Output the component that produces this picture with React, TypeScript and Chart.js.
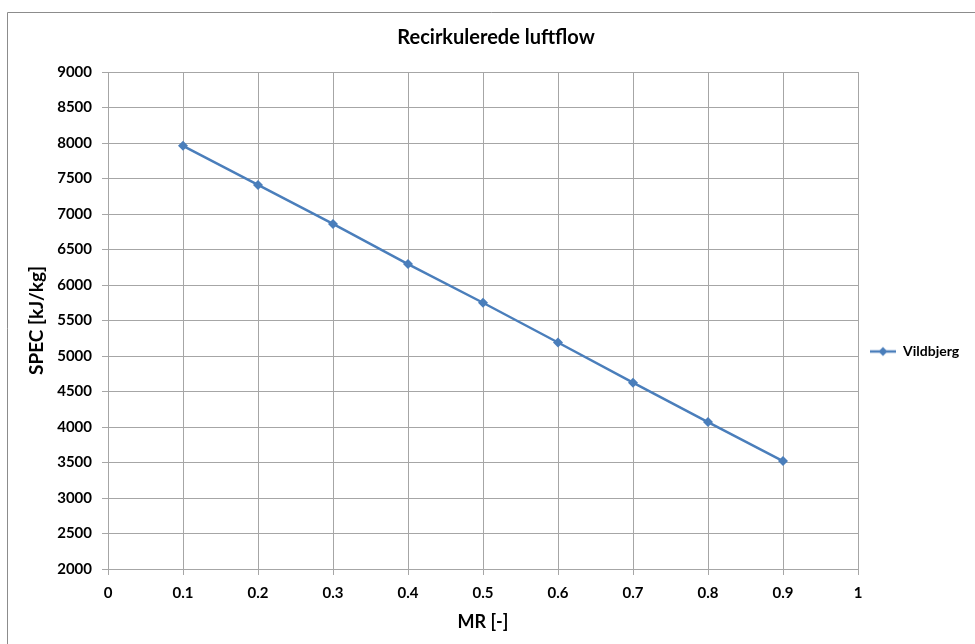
import React, { useEffect, useRef } from "react";
import { Chart, registerables } from "chart.js";

Chart.register(...registerables);

const chartTitle = "Recirkulerede luftflow";
const seriesName = "Vildbjerg";
const xAxisTitle = "MR [-]";
const yAxisTitle = "SPEC [kJ/kg]";

const mrValues = [0.1, 0.2, 0.3, 0.4, 0.5, 0.6, 0.7, 0.8, 0.9];
const specValues = [7960, 7410, 6860, 6295, 5750, 5190, 4625, 4070, 3520];

const xTickLabels = ["0", "0.1", "0.2", "0.3", "0.4", "0.5", "0.6", "0.7", "0.8", "0.9", "1"];
const yTickLabels = ["2000", "2500", "3000", "3500", "4000", "4500", "5000", "5500", "6000", "6500", "7000", "7500", "8000", "8500", "9000"];

const FONT = "Lato, 'Open Sans', sans-serif";
const LINE_COLOR = "#4a7ebb";
const GRID_COLOR = "#a6a6a6";

export default function App() {
  const canvasRef = useRef<HTMLCanvasElement | null>(null);

  useEffect(() => {
    const canvas = canvasRef.current;
    if (!canvas) return;

    // legend marker: line with diamond
    const marker = document.createElement("canvas");
    marker.width = 26;
    marker.height = 12;
    const mctx = marker.getContext("2d")!;
    mctx.strokeStyle = LINE_COLOR;
    mctx.lineWidth = 2.5;
    mctx.beginPath();
    mctx.moveTo(0, 6);
    mctx.lineTo(26, 6);
    mctx.stroke();
    mctx.fillStyle = LINE_COLOR;
    mctx.beginPath();
    mctx.moveTo(13, 1.5);
    mctx.lineTo(17.5, 6);
    mctx.lineTo(13, 10.5);
    mctx.lineTo(8.5, 6);
    mctx.closePath();
    mctx.fill();

    const frame = {
      id: "frame",
      beforeDraw(chart: any) {
        const c = chart.ctx;
        c.save();
        c.fillStyle = "#ffffff";
        c.fillRect(0, 0, chart.width, chart.height);
        c.strokeStyle = "#8c8c8c";
        c.lineWidth = 1;
        c.beginPath();
        c.moveTo(7.5, chart.height);
        c.lineTo(7.5, 12.5);
        c.lineTo(chart.width, 12.5);
        c.stroke();
        c.restore();
      },
      afterLayout(chart: any) {
        const lg = chart.legend;
        if (lg) {
          lg.top += 31;
          lg.bottom += 31;
          lg.left -= 10;
          lg.right -= 10;
        }
      },
    };

    const chart = new Chart(canvas, {
      type: "line",
      data: {
        datasets: [
          {
            label: seriesName,
            data: mrValues.map((x, i) => ({ x, y: specValues[i] })),
            borderColor: LINE_COLOR,
            backgroundColor: LINE_COLOR,
            borderWidth: 2.5,
            pointStyle: "rectRot",
            pointRadius: 5,
            pointBorderWidth: 0,
            pointBackgroundColor: LINE_COLOR,
            tension: 0,
            fill: false,
          },
        ],
      },
      options: {
        responsive: false,
        animation: false,
        layout: { padding: { left: 17, right: 0, top: 0, bottom: 0 } },
        plugins: {
          title: {
            display: true,
            text: chartTitle,
            color: "#000",
            font: { family: FONT, size: 20, weight: "bold" },
            padding: { top: 26, bottom: 22 },
          },
          legend: {
            display: true,
            position: "right",
            fullSize: false,
            maxWidth: 117,
            labels: {
              usePointStyle: true,
              pointStyle: marker as any,
              pointStyleWidth: 26,
              padding: 22,
              color: "#000",
              font: { family: FONT, size: 14, weight: "bold" },
            },
          },
          tooltip: { enabled: false },
        },
        scales: {
          x: {
            type: "linear",
            min: 0,
            max: 1,
            afterBuildTicks: (scale: any) => {
              scale.ticks = xTickLabels.map((l) => ({ value: parseFloat(l) }));
            },
            afterFit: (scale: any) => {
              scale.height = 75;
            },
            ticks: {
              callback: (_v: any, i: number) => xTickLabels[i],
              color: "#000",
              font: { family: FONT, size: 15, weight: "bold" },
              padding: 9,
              maxRotation: 0,
              autoSkip: false,
            },
            grid: { color: GRID_COLOR, lineWidth: 1, tickLength: 6, drawTicks: true },
            border: { color: GRID_COLOR, width: 1 },
            title: {
              display: true,
              text: xAxisTitle,
              color: "#000",
              font: { family: FONT, size: 18, weight: "bold" },
              padding: { top: 4, bottom: 11 },
            },
          },
          y: {
            type: "linear",
            min: 2000,
            max: 9000,
            afterBuildTicks: (scale: any) => {
              scale.ticks = yTickLabels.map((l) => ({ value: parseFloat(l) }));
            },
            afterFit: (scale: any) => {
              scale.width = 91;
            },
            ticks: {
              callback: (_v: any, i: number) => yTickLabels[i],
              color: "#000",
              font: { family: FONT, size: 15, weight: "bold" },
              padding: 10,
              autoSkip: false,
            },
            grid: { color: GRID_COLOR, lineWidth: 1, tickLength: 6, drawTicks: true },
            border: { color: GRID_COLOR, width: 1 },
            title: {
              display: true,
              text: yAxisTitle,
              color: "#000",
              font: { family: FONT, size: 19, weight: "bold" },
              padding: { top: 8, bottom: 0 },
            },
          },
        },
      },
      plugins: [frame],
    } as any);

    return () => {
      chart.destroy();
    };
  }, []);

  return (
    <div style={{ position: "absolute", left: 0, top: 0, width: 975, height: 644 }}>
      <canvas ref={canvasRef} width={975} height={644} style={{ display: "block" }} />
    </div>
  );
}
